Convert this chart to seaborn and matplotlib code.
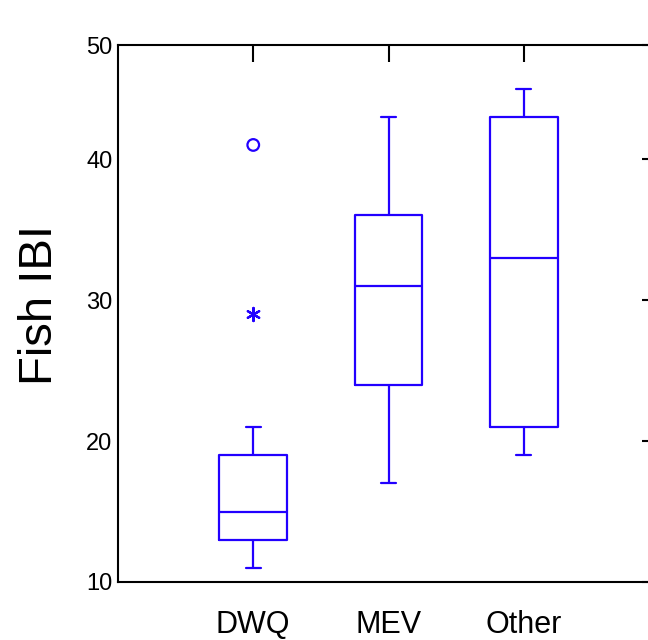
import matplotlib
matplotlib.use("Agg")
import matplotlib.pyplot as plt
import numpy as np
import pandas as pd
import seaborn as sns

# Five-number summaries of Fish IBI by assessment source
groups = ["DWQ", "MEV", "Other"]
whisker_low = [11, 17, 19]
q1 = [13, 24, 21]
median = [15, 31, 33]
q3 = [19, 36, 43]
whisker_high = [21, 43, 45]

# Points beyond the whiskers (DWQ only)
outside_group = ["DWQ"]
outside_value = [29]        # outside value (asterisk)
far_group = ["DWQ"]
far_value = [41]            # far outside value (circle)

y_ticks = [10, 20, 30, 40]
y_top = 48.09
y_labels = ["10", "20", "30", "40", "50"]

BLUE = "#2200FF"

sns.set_theme(style="white")
plt.rcParams["font.family"] = ["Liberation Sans", "DejaVu Sans"]

rows = []
for g, a, b, c, d, e in zip(groups, whisker_low, q1, median, q3, whisker_high):
    for v in (a, b, c, d, e):
        rows.append({"group": g, "ibi": v})
df = pd.DataFrame(rows)

fig = plt.figure(figsize=(6.48, 6.40), dpi=100)
ax = fig.add_axes([118 / 648, 58 / 640, 541 / 648, 537 / 640])

sns.boxplot(
    data=df, x="group", y="ibi", order=groups, ax=ax,
    fill=False, color=BLUE, linecolor=BLUE, linewidth=1.6,
    width=0.5, whis=(0, 100), showfliers=False, capwidths=0.11,
)

sns.scatterplot(
    x=outside_group, y=outside_value, ax=ax, marker=(6, 2, 0),
    s=90, color=BLUE, linewidth=1.6, zorder=5, legend=False,
)
sns.scatterplot(
    x=far_group, y=far_value, ax=ax, marker="o", s=70,
    facecolor="none", edgecolor=BLUE, linewidth=1.6, zorder=5, legend=False,
)

ax.set_xlim(-1, 3)
ax.set_ylim(10, y_top)
ax.set_yticks(y_ticks + [y_top])
ax.set_yticklabels(y_labels)
ax.set_xticks(range(len(groups)))
ax.set_xticklabels(groups)

for side in ("left", "bottom", "top", "right"):
    ax.spines[side].set_visible(True)
    ax.spines[side].set_color("black")
    ax.spines[side].set_linewidth(1.5)

ax.tick_params(axis="both", direction="in", length=12, width=1.5,
               colors="black", top=True, right=True,
               labeltop=False, labelright=False)
ax.tick_params(axis="y", labelsize=17, pad=4)
ax.tick_params(axis="x", labelsize=22, pad=20)

ax.set_xlabel("")
ax.set_ylabel("")
ax.grid(False)

fig.text(40 / 648, 1 - 305 / 640, "Fish IBI", rotation=90,
         ha="center", va="center", fontsize=34, color="black")

fig.savefig("out.png", dpi=100, facecolor="white")
